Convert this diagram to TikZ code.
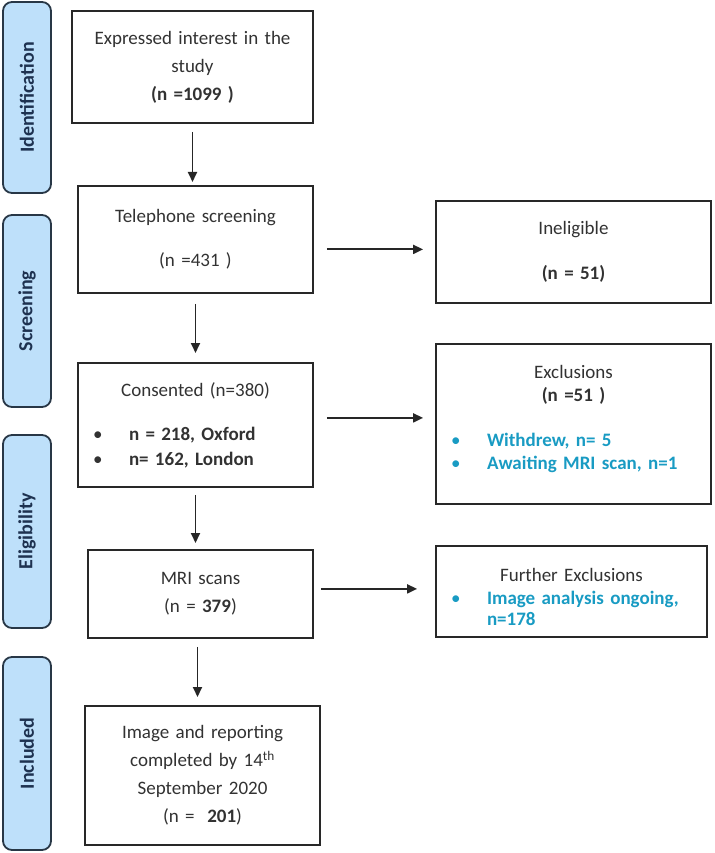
\documentclass[tikz,border=0pt]{standalone}
\usepackage{fontspec}
\setmainfont{Carlito}
\usetikzlibrary{arrows.meta}

\definecolor{bandfill}{RGB}{190,224,250}
\definecolor{banddraw}{RGB}{40,55,70}
\definecolor{bandtext}{RGB}{30,50,80}
\definecolor{boxdraw}{RGB}{40,40,40}
\definecolor{boxtext}{RGB}{50,50,50}
\definecolor{listblue}{RGB}{25,155,195}

% bullet line, text starts 31pt after the bullet
\newcommand{\bul}[1]{\makebox[\linewidth][l]{\makebox[32pt][l]{\hspace{-4pt}\textbullet}#1}}

\begin{document}
\begin{tikzpicture}[x=1pt, y=-1pt,
  % common options for the side bands:
  band/.style = {draw=banddraw, fill=bandfill, line width=1.8pt, rounded corners=9pt,
              rotate=90, minimum height=48, inner sep=0, text=bandtext,
              font=\fontsize{20}{24}\selectfont\bfseries},
  % common options for the boxes:
  block/.style = {draw=boxdraw, line width=1.8pt, align=center, anchor=north,
              inner sep=0, text=boxtext, font=\fontsize{19}{28}\selectfont},
  % tighter lines in the right column
  side/.style = {block, font=\fontsize{19}{23}\selectfont},
  arr/.style = {-{Triangle[length=10pt,width=9pt]}, line width=1.9pt, draw=black!85}
	]
  \useasboundingbox (0,0) rectangle (714,853);

  \node[band, minimum width=191] (idb) at (27,97.5) {Identification};
  \node[band, minimum width=192] (scb) at (27,311) {Screening};
  \node[band, minimum width=193] (elb) at (27,531.5) {Eligibility};
  \node[band, minimum width=193] (inb) at (27,753.5) {Included};

  \node[block, minimum width=241, minimum height=112, text width=211] (expr) at (192.5,10)
    {Expressed interest in the\\ study\\ \textbf{(n =1099 )}};
  \node[block, minimum width=235, minimum height=107, text width=205] (tel) at (195.5,185)
    {Telephone screening\\[16pt] (n =431 )};
  \node[block, minimum width=235, minimum height=124, text width=197,
        font=\fontsize{19}{25}\selectfont] (cons) at (195.5,362)
    {Consented (n=380)\\[19pt]
     \bul{\textbf{n = 218, Oxford}}\\
     \bul{\textbf{n= 162, London}}};
  \node[block, minimum width=225, minimum height=88, text width=195] (mri) at (200.5,549)
    {MRI scans\\ (n = \textbf{379})};
  \node[block, minimum width=235, minimum height=139, text width=205] (img) at (202.5,705)
    {Image and reporting\\ completed by 14\textsuperscript{th}\\ September 2020\\ (n =~~\textbf{201})};

  \node[side, minimum width=275, minimum height=102, text width=237] (inel) at (573.5,200)
    {Ineligible\\[22pt] \textbf{(n = 51)}};
  \node[side, minimum width=275, minimum height=160, text width=237] (excl) at (573.5,343)
    {Exclusions\\ \textbf{(n =51 )}\\[22pt]
     \color{listblue}\bul{\textbf{Withdrew, n= 5}}\\
     \bul{\textbf{Awaiting MRI scan, n=1}}\rule[-12pt]{0pt}{1pt}};
  \node[side, minimum width=271, minimum height=91, text width=233,
        font=\fontsize{19}{21}\selectfont] (furt) at (571.5,545)
    {\rule{0pt}{24pt}Further Exclusions\\[2pt]
     \color{listblue}\bul{\textbf{Image analysis ongoing,}}\\
     \makebox[\linewidth][l]{\hspace*{32pt}\textbf{n=178}}};

  \draw[arr, shorten <=8pt, shorten >=3pt] (expr.south) -- (expr.south |- tel.north);
  \draw[arr, shorten <=10pt, shorten >=9pt] (tel.south) -- (tel.south |- cons.north);
  \draw[arr, shorten <=7pt, shorten >=6pt] (cons.south) -- (cons.south |- mri.north);
  \draw[arr, shorten <=8pt, shorten >=8pt] ([xshift=-3pt]mri.south) -- ([xshift=-3pt]mri.south |- img.north);

  \draw[arr, shorten <=13pt, shorten >=12pt] ([yshift=-10pt]tel.east) -- ([yshift=-10pt]tel.east -| inel.west);
  \draw[arr, shorten <=13pt, shorten >=12pt] ([yshift=7pt]cons.east) -- ([yshift=7pt]cons.east -| excl.west);
  \draw[arr, shorten <=7pt, shorten >=18pt] ([yshift=5pt]mri.east) -- ([yshift=5pt]mri.east -| furt.west);
\end{tikzpicture}
\end{document}
